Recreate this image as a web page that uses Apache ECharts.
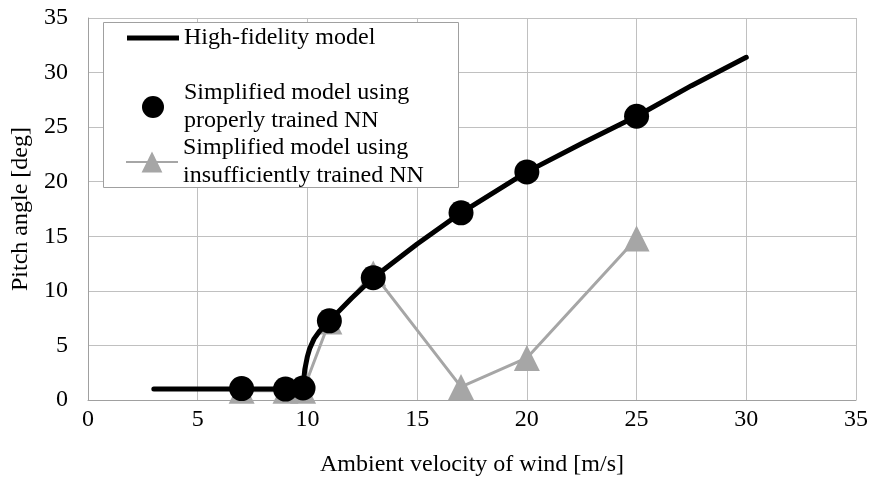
<!DOCTYPE html>
<html>
<head>
<meta charset="utf-8">
<script src="https://cdn.jsdelivr.net/npm/echarts@6/dist/echarts.min.js"></script>
<style>
  html, body { margin: 0; padding: 0; background: #fff; }
  #main { width: 871px; height: 482px; }
</style>
</head>
<body>
<div id="main"></div>
<script>

// high-fidelity model curve
var hfWind  = [3, 9.75, 9.82, 9.88, 10, 10.1, 10.3, 10.55, 11, 12, 13, 15, 17, 20, 22.5, 25, 27.5, 30];
var hfPitch = [1, 1, 1.6, 2.8, 4.0, 4.7, 5.6, 6.3, 7.25, 9.3, 11.2, 14.3, 17.15, 20.9, 23.5, 26.0, 28.8, 31.4];

// simplified model, properly trained NN
var goodWind  = [7, 9, 9.8, 11, 13, 17, 20, 25];
var goodPitch = [1.05, 1.0, 1.1, 7.25, 11.2, 17.15, 20.9, 26.0];

// simplified model, insufficiently trained NN
var badWind  = [7, 9, 9.8, 11, 13, 17, 20, 25];
var badPitch = [0.85, 0.85, 0.85, 7.2, 11.6, 1.2, 3.85, 14.8];

var xTicks = [0, 5, 10, 15, 20, 25, 30, 35];
var yTicks = [0, 5, 10, 15, 20, 25, 30, 35];

var nameHF   = 'High-fidelity model';
var nameGood = 'Simplified model using\nproperly trained NN';
var nameBad  = 'Simplified model using\ninsufficiently trained NN';

function pairs(xs, ys) {
  var out = [];
  for (var i = 0; i < xs.length; i++) {
    out.push([xs[i], ys[i]]);
  }
  return out;
}

var FONT = 'Liberation Serif';
var GRAYLINE = '#a6a6a6';

var chart = echarts.init(document.getElementById('main'));

var legendText = { color: '#000', fontFamily: FONT, fontSize: 24, lineHeight: 28 };

chart.setOption({
  animation: false,
  backgroundColor: '#fff',
  textStyle: { fontFamily: FONT },
  grid: { left: 88, right: 14, top: 18, bottom: 80 },

  graphic: [{
    type: 'rect',
    z: 3,
    shape: { x: 103.5, y: 22.5, width: 355, height: 165 },
    style: { fill: '#fff', stroke: '#a0a0a0', lineWidth: 1 }
  }],

  legend: [
    {
      left: 127, top: 24, padding: 0,
      itemWidth: 52, itemHeight: 5,
      data: [{ name: nameHF, icon: 'rect' }],
      textStyle: legendText
    },
    {
      left: 142, top: 79, padding: 0,
      itemWidth: 52, itemHeight: 22,
      data: [{ name: nameGood, icon: 'circle' }],
      textStyle: legendText
    },
    {
      left: 125, top: 134, padding: 0,
      itemWidth: 52, itemHeight: 26,
      data: [nameBad],
      textStyle: legendText
    }
  ],

  xAxis: {
    type: 'value',
    min: xTicks[0], max: xTicks[xTicks.length - 1], interval: 5,
    name: 'Ambient velocity of wind [m/s]',
    nameLocation: 'middle',
    nameGap: 53,
    nameTextStyle: { color: '#000', fontFamily: FONT, fontSize: 24 },
    axisLine: { lineStyle: { color: '#a0a0a0', width: 1 } },
    axisTick: { show: false },
    axisLabel: { color: '#000', fontFamily: FONT, fontSize: 24, margin: 8 },
    splitLine: { show: true, lineStyle: { color: '#c0c0c0', width: 1 } }
  },

  yAxis: {
    type: 'value',
    min: yTicks[0], max: yTicks[yTicks.length - 1], interval: 5,
    name: 'Pitch angle [deg]',
    nameLocation: 'middle',
    nameGap: 49,
    nameTextStyle: { color: '#000', fontFamily: FONT, fontSize: 24 },
    axisLine: { show: true, lineStyle: { color: '#a0a0a0', width: 1 } },
    axisTick: { show: false },
    axisLabel: { color: '#000', fontFamily: FONT, fontSize: 24, margin: 20 },
    splitLine: { show: true, lineStyle: { color: '#c0c0c0', width: 1 } }
  },

  series: [
    {
      name: nameBad,
      type: 'line',
      z: 1,
      data: pairs(badWind, badPitch),
      symbol: 'triangle',
      symbolSize: 26,
      lineStyle: { color: GRAYLINE, width: 3 },
      itemStyle: { color: GRAYLINE }
    },
    {
      name: nameHF,
      type: 'line',
      z: 2,
      data: pairs(hfWind, hfPitch),
      symbol: 'none',
      smooth: false,
      lineStyle: { color: '#000', width: 5, cap: 'round', join: 'round' },
      itemStyle: { color: '#000' }
    },
    {
      name: nameGood,
      type: 'scatter',
      z: 3,
      data: pairs(goodWind, goodPitch),
      symbol: 'circle',
      symbolSize: 25,
      itemStyle: { color: '#000', opacity: 1 }
    }
  ]
});

</script>
</body>
</html>
